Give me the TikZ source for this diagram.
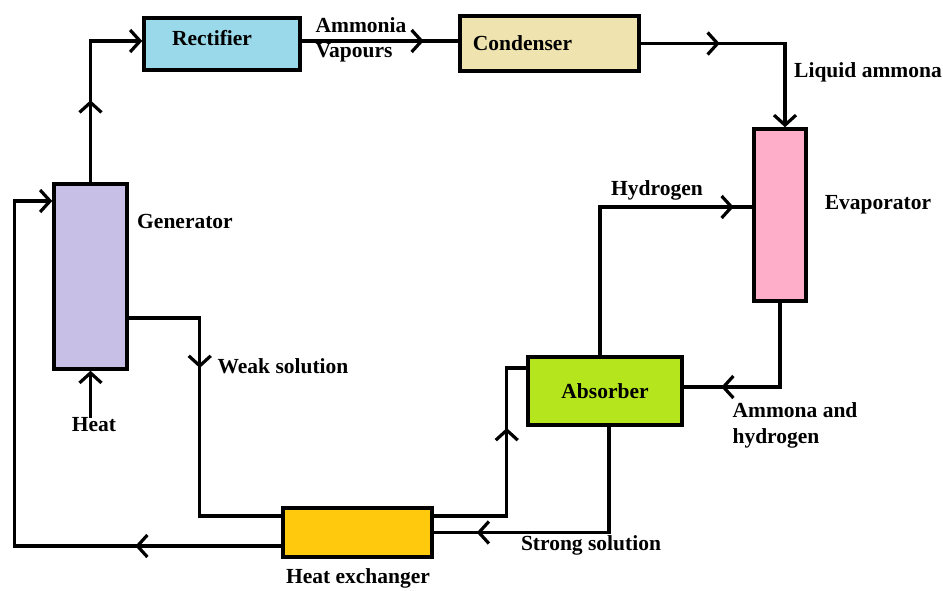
\documentclass[tikz,border=0pt]{standalone}
\usepackage{fontspec}
\setmainfont{Liberation Serif}
\usetikzlibrary{arrows.meta,decorations.markings,positioning}
\definecolor{rectblue}{HTML}{99D9EA}
\definecolor{condsand}{HTML}{EFE4B0}
\definecolor{evappink}{HTML}{FFAEC9}
\definecolor{genlilac}{HTML}{C8BFE7}
\definecolor{absgreen}{HTML}{B5E61D}
\definecolor{hxamber}{HTML}{FFC90E}
\tikzset{
  unit/.style={draw=black, line width=3.5pt, inner sep=0pt},
  tag/.style={inner sep=0pt, align=left},
  flow/.style={line width=3.2pt},
  endarr/.style={-{Straight Barb[length=10pt,width=22pt]}},
  midarr/.style={postaction={decorate, decoration={markings,
    mark=at position #1 with {\arrow{Straight Barb[length=10pt,width=22pt]}}}}}
}
\begin{document}
\begin{tikzpicture}[x=1pt, y=-1pt, font=\fontsize{21.5}{24}\selectfont\bfseries]
  \useasboundingbox (0,0) rectangle (943,590);

  \node[unit, fill=rectblue, minimum width=156pt, minimum height=52pt,
    label={[xshift=-10pt,yshift=6pt]center:Rectifier}] (rect) at (222,44) {};
  \node[unit, fill=condsand, minimum width=179pt, minimum height=55pt,
    label={[xshift=-27pt]center:Condenser}] (cond) at (549.5,43.5) {};
  \node[unit, fill=evappink, minimum width=52pt, minimum height=172pt] (evap) at (780,215) {};
  \node[unit, fill=genlilac, minimum width=73pt, minimum height=185pt] (gen) at (90.5,276.5) {};
  \node[unit, fill=absgreen, minimum width=154pt, minimum height=68pt] (absb) at (605,391) {Absorber};
  \node[unit, fill=hxamber, minimum width=149pt, minimum height=49pt] (hx) at (357.5,532.5) {};

  \node[tag] (vap) at (361,39.5) {Ammonia\\[1pt]Vapours};
  \node[tag] (liq) at (868,72) {Liquid ammona};
  \node[tag] (evapname) at (878,205) {Evaporator};
  \node[tag] (hyd) at (657,190) {Hydrogen};
  \node[tag] (genname) at (185,221) {Generator};
  \node[tag] (weak) at (283,366) {Weak solution};
  \node[tag] (heat) at (94,425) {Heat};
  \node[tag] (amhyd) at (795,425) {Ammona and\\[2pt]hydrogen};
  \node[tag] (strong) at (591,545) {Strong solution};
  \node[tag] (hxname) at (358,578) {Heat exchanger};

  \draw[flow, endarr, midarr=82pt] (gen.north) |- ([yshift=3pt]rect.west);
  \draw[flow, midarr=122pt] ([yshift=3pt]rect.east) -- ([yshift=3pt]rect.east -| cond.west);
  \draw[flow, endarr, midarr=79pt] (cond.east) -| ([xshift=5pt]evap.north);
  \draw[flow, midarr=143pt] (evap.south) |- ([yshift=4pt]absb.east);
  \draw[flow, midarr=282pt] ([xshift=-5pt]absb.north) |- ([yshift=8pt]evap.west);
  \draw[flow, midarr=238pt] ([xshift=4pt]absb.south) |- (hx.east);
  \draw[flow, midarr=161pt] ([yshift=16.5pt]hx.east) -- ++(73,0) |- ([yshift=23pt]absb.west);
  \draw[flow, midarr=121pt] ([yshift=-41.5pt]gen.east) -- ++(71,0) |- ([yshift=16.5pt]hx.west);
  \draw[flow, endarr, midarr=146pt] ([yshift=-13.5pt]hx.west) -- ++(-267,0) |- ([yshift=75.5pt]gen.west);
  \draw[flow, endarr] (gen.south |- heat.north) -- (gen.south);
\end{tikzpicture}
\end{document}
